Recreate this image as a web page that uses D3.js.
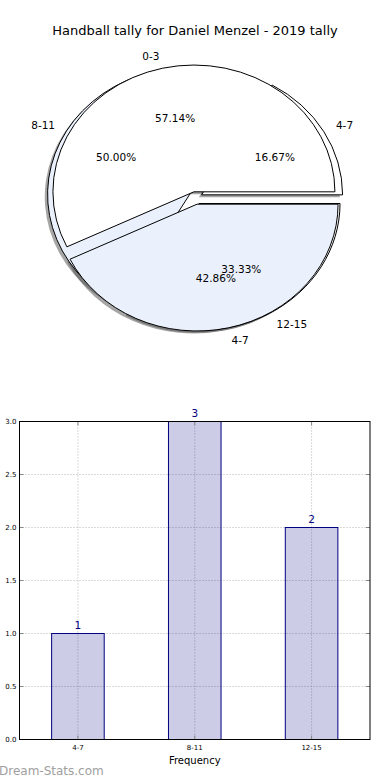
<!DOCTYPE html>
<html>
<head>
<meta charset="utf-8">
<script src="https://cdn.jsdelivr.net/npm/d3@7"></script>
<style>
  body { margin: 0; background: #fff; }
  svg { display: block; font-family: "DejaVu Sans", sans-serif; }
</style>
</head>
<body>
<svg id="chart" width="390" height="780"></svg>
<script>

// Data
const title = "Handball tally for Daniel Menzel - 2019 tally";
const pieOneLabels = ["4-7", "8-11", "12-15"];
const pieOneValues = [1, 3, 2];
const pieTwoLabels = ["0-3", "4-7"];
const pieTwoValues = [4, 3];
const barLabels = ["4-7", "8-11", "12-15"];
const barValues = [1, 3, 2];
const yTicks = [0, 0.5, 1, 1.5, 2, 2.5, 3];

const svg = d3.select("#chart");

svg.append("text")
    .attr("x", 195)
    .attr("y", 30)
    .attr("text-anchor", "middle")
    .attr("dominant-baseline", "central")
    .attr("font-size", 13)
    .text(title);

//Pie geometry (elliptical, like an unequal-aspect matplotlib axes)
const cx = 195.5, cy = 198, rx = 141, ry = 126.8;
const explode = 0.05;
const sliceColors = ["#ffffff", "#eaf0fc"];

const pie = d3.pie()
  .sort(null)
  .startAngle(Math.PI / 2)
  .endAngle(Math.PI / 2 - 2 * Math.PI);

const arc = d3.arc().innerRadius(0).outerRadius(1);

const buildSlices = (labels, values) => {
  const total = d3.sum(values);
  return pie(values).map((d, i) => {
    const mid = (d.startAngle + d.endAngle) / 2;
    return {
      ...d,
      label: labels[i],
      pct: d3.format(".2f")(d.value / total * 100) + "%",
      color: sliceColors[i % sliceColors.length],
      sx: Math.sin(mid),
      sy: -Math.cos(mid),
      ox: cx + explode * Math.sin(mid) * rx,
      oy: cy - explode * Math.cos(mid) * ry
    };
  });
};

const pies = [
  buildSlices(pieOneLabels, pieOneValues),
  buildSlices(pieTwoLabels, pieTwoValues)
];
const allSlices = pies.flat();

const pieG = svg.append("g");

//Shadows first (lower zorder), then wedges in order
pieG.selectAll(".shadow")
  .data(allSlices)
  .join("path")
    .attr("class", "shadow")
    .attr("d", arc)
    .attr("transform", d => `translate(${d.ox - 0.02 * rx},${d.oy + 0.02 * ry}) scale(${rx},${ry})`)
    .attr("fill", "#4d4d4d")
    .attr("fill-opacity", 0.5);

pieG.selectAll(".wedge")
  .data(allSlices)
  .join("path")
    .attr("class", "wedge")
    .attr("d", arc)
    .attr("transform", d => `translate(${d.ox},${d.oy}) scale(${rx},${ry})`)
    .attr("fill", d => d.color)
    .attr("stroke", "#000")
    .attr("stroke-width", 1)
    .attr("vector-effect", "non-scaling-stroke");

pieG.selectAll(".slice-label")
  .data(allSlices)
  .join("text")
    .attr("class", "slice-label")
    .attr("x", d => d.ox + 1.1 * d.sx * rx)
    .attr("y", d => d.oy + 1.1 * d.sy * ry)
    .attr("text-anchor", d => d.sx > 0 ? "start" : "end")
    .attr("dominant-baseline", "central")
    .attr("font-size", 10.5)
    .text(d => d.label);

pieG.selectAll(".slice-pct")
  .data(allSlices)
  .join("text")
    .attr("class", "slice-pct")
    .attr("x", d => d.ox + 0.6 * d.sx * rx)
    .attr("y", d => d.oy + 0.6 * d.sy * ry)
    .attr("text-anchor", "middle")
    .attr("dominant-baseline", "central")
    .attr("font-size", 10.5)
    .text(d => d.pct);

//Bar chart
const plotLeft = 19.5, plotRight = 370, plotTop = 421.5, plotBottom = 739.5;

const xScale = d3.scaleLinear()
  .domain([-0.5, barLabels.length - 0.5])
  .range([plotLeft, plotRight]);

const yScale = d3.scaleLinear()
  .domain([0, 3])
  .range([plotBottom, plotTop]);

const barG = svg.append("g");

//Grid
barG.selectAll(".hgrid")
  .data(yTicks)
  .join("line")
    .attr("class", "hgrid")
    .attr("x1", plotLeft).attr("x2", plotRight)
    .attr("y1", d => yScale(d)).attr("y2", d => yScale(d))
    .attr("stroke", "#b4b4b4")
    .attr("stroke-width", 1)
    .attr("stroke-dasharray", "1,2");

barG.selectAll(".vgrid")
  .data(barLabels)
  .join("line")
    .attr("class", "vgrid")
    .attr("x1", (d, i) => xScale(i)).attr("x2", (d, i) => xScale(i))
    .attr("y1", plotTop).attr("y2", plotBottom)
    .attr("stroke", "#b4b4b4")
    .attr("stroke-width", 1)
    .attr("stroke-dasharray", "1,2");

//Bars
const barWidth = 0.45;
barG.selectAll(".bar")
  .data(barValues)
  .join("rect")
    .attr("class", "bar")
    .attr("x", (d, i) => xScale(i - barWidth / 2))
    .attr("y", d => yScale(d))
    .attr("width", xScale(barWidth) - xScale(0))
    .attr("height", d => yScale(0) - yScale(d))
    .attr("fill", "#000080")
    .attr("fill-opacity", 0.2)
    .attr("stroke", "#000080")
    .attr("stroke-width", 1);

barG.selectAll(".bar-value")
  .data(barValues)
  .join("text")
    .attr("class", "bar-value")
    .attr("x", (d, i) => xScale(i))
    .attr("y", d => yScale(d) - 5)
    .attr("text-anchor", "middle")
    .attr("font-size", 10.5)
    .attr("fill", "#000080")
    .text(d => d);

//Ticks, inside on every side
const tickLen = 4;
barG.selectAll(".ytick")
  .data(yTicks.flatMap(t => [[plotLeft, t, 1], [plotRight, t, -1]]))
  .join("line")
    .attr("class", "ytick")
    .attr("x1", d => d[0]).attr("x2", d => d[0] + d[2] * tickLen)
    .attr("y1", d => yScale(d[1])).attr("y2", d => yScale(d[1]))
    .attr("stroke", "#888");

barG.selectAll(".xtick")
  .data(barLabels.flatMap((l, i) => [[i, plotBottom, -1], [i, plotTop, 1]]))
  .join("line")
    .attr("class", "xtick")
    .attr("x1", d => xScale(d[0])).attr("x2", d => xScale(d[0]))
    .attr("y1", d => d[1]).attr("y2", d => d[1] + d[2] * tickLen)
    .attr("stroke", "#888");

barG.append("rect")
    .attr("x", plotLeft).attr("y", plotTop)
    .attr("width", plotRight - plotLeft).attr("height", plotBottom - plotTop)
    .attr("fill", "none")
    .attr("stroke", "#000")
    .attr("stroke-width", 1);

barG.selectAll(".ylabel")
  .data(yTicks)
  .join("text")
    .attr("class", "ylabel")
    .attr("x", plotLeft - 3)
    .attr("y", d => yScale(d))
    .attr("text-anchor", "end")
    .attr("dominant-baseline", "central")
    .attr("font-size", 7)
    .text(d => d3.format(".1f")(d));

barG.selectAll(".xlabel")
  .data(barLabels)
  .join("text")
    .attr("class", "xlabel")
    .attr("x", (d, i) => xScale(i))
    .attr("y", plotBottom + 8)
    .attr("text-anchor", "middle")
    .attr("dominant-baseline", "central")
    .attr("font-size", 7)
    .text(d => d);

svg.append("text")
    .attr("x", xScale(1))
    .attr("y", 760)
    .attr("text-anchor", "middle")
    .attr("dominant-baseline", "central")
    .attr("font-size", 10)
    .text("Frequency");

svg.append("text")
    .attr("x", -1)
    .attr("y", 771)
    .attr("dominant-baseline", "central")
    .attr("font-size", 12)
    .attr("fill", "#a0a0a0")
    .text("Dream-Stats.com");

</script>
</body>
</html>
